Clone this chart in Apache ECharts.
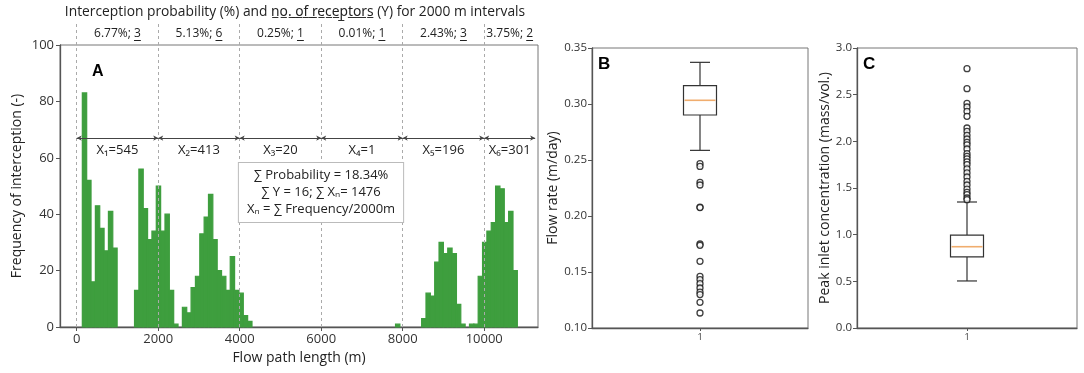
<!DOCTYPE html>
<html>
<head>
<meta charset="utf-8">
<script src="https://cdn.jsdelivr.net/npm/echarts@6/dist/echarts.min.js"></script>
<style>
html,body{margin:0;background:#fff}
#main{width:1084px;height:373px}
</style>
</head>
<body>
<div id="main"></div>
<script>
// panel A: histogram of flow path length
var binStart = 138;
var binWidth = 106.75;
var freq = [
  83,52,16,43,35,27,41,28,0,0,
  0,0,13,56,42,31,34,50,34,40,
  13,1,0,7,5,14,18,33,39,47,
  31,20,18,13,25,13,12,4,2,0,
  0,0,0,0,0,0,0,0,0,0,
  0,0,0,0,0,0,0,0,0,0,
  0,0,0,0,0,0,0,0,0,0,
  0,0,1,0,0,0,0,0,3,12,
  11,23,30,26,28,26,8,1,0,1,
  1,18,30,34,37,50,49,37,41,20
];
var xTicks = [0,2000,4000,6000,8000,10000];
var segEnds = [0,2000,4000,6000,8000,10000,11250];
var xCounts = [545,413,20,1,196,301];
var headerProb = ['6.77%','5.13%','0.25%','0.01%','2.43%','3.75%'];
var headerY = [3,6,1,1,3,2];
var arrowLevel = 67;

// panel B: flow rate box plot  [min, q1, median, q3, max]
var flowBox = [0.2586,0.2902,0.3033,0.3164,0.3372];
var flowOut = [0.2467,0.2443,0.2301,0.2277,0.208,0.2075,0.175,0.1738,0.1595,0.1461,0.1432,0.1396,0.1357,0.1321,0.1298,0.1229,0.1134];

// panel C: peak inlet concentration box plot
var concBox = [0.504,0.761,0.871,0.996,1.35];
var concOut = [2.779,2.564,2.407,2.368,2.321,2.268,2.143,2.107,2.064,2.025,1.989,1.961,1.918,1.868,1.839,1.811,1.779,1.75,1.704,1.661,1.618,1.571,1.532,1.489,1.454,1.429,1.393,1.375];

var subs = ['\u2081','\u2082','\u2083','\u2084','\u2085','\u2086'];
function ul(s){ return s.split('').map(function(c){ return c + '\u0332'; }).join(''); }

var font = '"Open Sans", "Noto Sans", sans-serif';
var chart = echarts.init(document.getElementById('main'));
var measureCtx = document.createElement('canvas').getContext('2d');

var histData = [];
for (var i = 0; i < freq.length; i++) {
  if (freq[i] > 0) histData.push([binStart + i*binWidth, binStart + (i+1)*binWidth, freq[i]]);
}
var mids = [];
for (var k = 0; k < segEnds.length - 1; k++) mids.push((segEnds[k] + segEnds[k+1]) / 2);

var arrowLines = [];
for (var k = 0; k < segEnds.length - 1; k++) {
  arrowLines.push([
    {coord:[segEnds[k], arrowLevel], name:'X' + subs[k] + '=' + xCounts[k]},
    {coord:[segEnds[k+1], arrowLevel]}
  ]);
}

// header label: "p%; n" with n underlined
function headerItem(params, api){
  var p = api.coord([api.value(0), 0.5]);
  var idx = params.dataIndex;
  var f = '12px ' + font;
  measureCtx.font = f;
  var a = headerProb[idx] + '; ', b = String(headerY[idx]);
  var wa = measureCtx.measureText(a).width, wb = measureCtx.measureText(b).width;
  var x0 = p[0] - (wa + wb) / 2;
  return {type:'group', children:[
    {type:'text', x:x0, y:p[1], style:{text:a + b, font:f, fill:'#222', verticalAlign:'middle'}},
    {type:'line', shape:{x1:x0 + wa, y1:p[1] + 7, x2:x0 + wa + wb, y2:p[1] + 7}, style:{stroke:'#222', lineWidth:1}}
  ]};
}

function boxItem(params, api){
  var x = api.value(0);
  var lo = api.coord([x, api.value(1)]);
  var q1 = api.coord([x, api.value(2)]);
  var md = api.coord([x, api.value(3)]);
  var q3 = api.coord([x, api.value(4)]);
  var hi = api.coord([x, api.value(5)]);
  var cx = lo[0], hw = 16.5, cw = 10;
  var st = {stroke:'#333', lineWidth:1.2};
  return {type:'group', children:[
    {type:'line', shape:{x1:cx,y1:hi[1],x2:cx,y2:q3[1]}, style:st},
    {type:'line', shape:{x1:cx,y1:q1[1],x2:cx,y2:lo[1]}, style:st},
    {type:'line', shape:{x1:cx-cw,y1:hi[1],x2:cx+cw,y2:hi[1]}, style:st},
    {type:'line', shape:{x1:cx-cw,y1:lo[1],x2:cx+cw,y2:lo[1]}, style:st},
    {type:'rect', shape:{x:cx-hw,y:q3[1],width:2*hw,height:q1[1]-q3[1]}, style:{stroke:'#333',lineWidth:1.2,fill:'#fff'}},
    {type:'line', shape:{x1:cx-hw+1,y1:md[1],x2:cx+hw-1,y2:md[1]}, style:{stroke:'#f0ad6e',lineWidth:1.6}}
  ]};
}

var axisLn = {show:true, onZero:false, lineStyle:{color:'#555', width:1.3}};

chart.setOption({
  animation:false,
  textStyle:{fontFamily:font},
  grid:[
    {left:60, top:45, width:478, height:282, show:true, borderColor:'#777', borderWidth:1},
    {left:60, top:22, width:478, height:23},
    {left:592, top:48, width:216, height:280, show:true, borderColor:'#777', borderWidth:1},
    {left:857, top:48, width:220, height:280, show:true, borderColor:'#777', borderWidth:1}
  ],
  xAxis:[
    {gridIndex:0, type:'value', min:-410, max:11320, splitLine:{show:false},
     axisLine:axisLn, axisTick:{customValues:xTicks, length:4, lineStyle:{color:'#555'}},
     axisLabel:{customValues:xTicks, color:'#333', fontSize:13, margin:6, formatter:function(v){ return String(v); }},
     name:'Flow path length (m)', nameLocation:'middle', nameGap:23,
     nameTextStyle:{fontSize:14, color:'#222'}},
    {gridIndex:1, type:'value', min:-410, max:11320, show:false},
    {gridIndex:2, type:'value', min:0.5, max:1.5, splitLine:{show:false},
     axisLine:axisLn, axisTick:{customValues:[1], length:3, lineStyle:{color:'#555'}},
     axisLabel:{customValues:[1], color:'#333', fontSize:9, margin:5}},
    {gridIndex:3, type:'value', min:0.5, max:1.5, splitLine:{show:false},
     axisLine:axisLn, axisTick:{customValues:[1], length:3, lineStyle:{color:'#555'}},
     axisLabel:{customValues:[1], color:'#333', fontSize:9, margin:5}}
  ],
  yAxis:[
    {gridIndex:0, type:'value', min:0, max:100, interval:20, splitLine:{show:false},
     axisLine:axisLn, axisTick:{show:true, length:4, lineStyle:{color:'#555'}},
     axisLabel:{color:'#333', fontSize:13, margin:6},
     name:'Frequency of interception (-)', nameLocation:'middle', nameGap:36,
     nameTextStyle:{fontSize:14, color:'#222'}},
    {gridIndex:1, type:'value', min:0, max:1, show:false},
    {gridIndex:2, type:'value', min:0.1, max:0.35, interval:0.05, splitLine:{show:false},
     axisLine:axisLn, axisTick:{show:true, length:4, lineStyle:{color:'#555'}},
     axisLabel:{color:'#333', fontSize:11.5, margin:5, formatter:function(v){return v.toFixed(2);}},
     name:'Flow rate (m/day)', nameLocation:'middle', nameGap:31,
     nameTextStyle:{fontSize:14, color:'#222'}},
    {gridIndex:3, type:'value', min:0, max:3, interval:0.5, splitLine:{show:false},
     axisLine:axisLn, axisTick:{show:true, length:4, lineStyle:{color:'#555'}},
     axisLabel:{color:'#333', fontSize:11.5, margin:5, formatter:function(v){return v.toFixed(1);}},
     name:'Peak inlet concentration (mass/vol.)', nameLocation:'middle', nameGap:24,
     nameTextStyle:{fontSize:14, color:'#222'}}
  ],
  series:[
    {type:'custom', xAxisIndex:0, yAxisIndex:0, data:histData,
     renderItem:function(params, api){
       var p0 = api.coord([api.value(0), api.value(2)]);
       var p1 = api.coord([api.value(1), 0]);
       return {type:'rect', shape:{x:p0[0], y:p0[1], width:p1[0]-p0[0], height:p1[1]-p0[1]},
               style:{fill:'#3e9e3e', stroke:'#3e9e3e', lineWidth:1.2}};
     },
     z:3},
    {type:'scatter', xAxisIndex:0, yAxisIndex:0, data:[], silent:true,
     markLine:{silent:true, symbol:'none', animation:false,
       lineStyle:{color:'#aaa', type:[3,3], width:1},
       label:{show:false},
       data:xTicks.map(function(v){ return {xAxis:v}; })}},
    {type:'scatter', xAxisIndex:0, yAxisIndex:0, data:[], silent:true, z:5,
     markLine:{silent:true, symbol:['arrow','arrow'], symbolSize:[4,5], animation:false,
       lineStyle:{color:'#444', type:'solid', width:1},
       label:{show:true, position:'insideMiddleBottom', distance:6, formatter:'{b}', color:'#222', fontSize:13, fontFamily:font},
       data:arrowLines}},
    {type:'custom', xAxisIndex:1, yAxisIndex:1, data:mids.map(function(m){ return [m, 0.5]; }),
     renderItem:headerItem, silent:true,
     markLine:{silent:true, symbol:'none', animation:false,
       lineStyle:{color:'#aaa', type:[3,3], width:1},
       label:{show:false},
       data:xTicks.map(function(v){ return {xAxis:v}; })}},
    {type:'custom', xAxisIndex:2, yAxisIndex:2, data:[[1].concat(flowBox)], renderItem:boxItem},
    {type:'scatter', xAxisIndex:2, yAxisIndex:2, data:flowOut.map(function(v){ return [1, v]; }),
     symbol:'circle', symbolSize:6, itemStyle:{color:'#fff', borderColor:'#111', borderWidth:1.3}},
    {type:'custom', xAxisIndex:3, yAxisIndex:3, data:[[1].concat(concBox)], renderItem:boxItem},
    {type:'scatter', xAxisIndex:3, yAxisIndex:3, data:concOut.map(function(v){ return [1, v]; }),
     symbol:'circle', symbolSize:6, itemStyle:{color:'#fff', borderColor:'#111', borderWidth:1.3}}
  ],
  graphic:[
    {type:'text', x:295, y:12, style:{text:'Interception probability (%) and ' + ul('no. of receptors') + ' (Y) for 2000 m intervals',
      fill:'#222', font:'13.8px ' + font, align:'center', verticalAlign:'middle'}},
    {type:'text', x:92, y:64, style:{text:'A', fill:'#000', font:'bold 16px Arial, "Liberation Sans", sans-serif'}},
    {type:'text', x:598, y:56, style:{text:'B', fill:'#000', font:'bold 17px Arial, "Liberation Sans", sans-serif'}},
    {type:'text', x:863, y:56, style:{text:'C', fill:'#000', font:'bold 17px Arial, "Liberation Sans", sans-serif'}},
    {type:'text', x:321, y:163, z:10, style:{
      text:'\u2211 Probability = 18.34%\n\u2211 Y = 16; \u2211 X\u2099= 1476\nX\u2099 = \u2211 Frequency/2000m',
      fill:'#222', font:'13px ' + font, align:'center', verticalAlign:'top', lineHeight:17,
      backgroundColor:'#fff', borderColor:'#bbb', borderWidth:1, padding:[4,8]}}
  ]
});
</script>
</body>
</html>
